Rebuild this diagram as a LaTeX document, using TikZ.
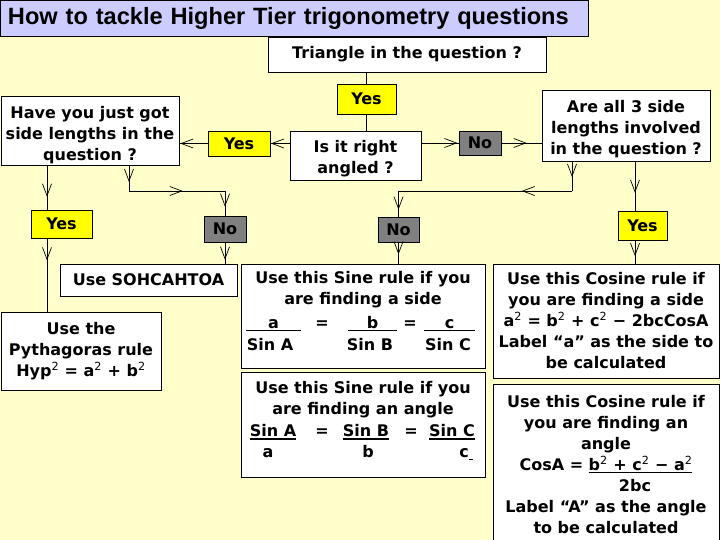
\documentclass[tikz,border=0pt]{standalone}
\usepackage{fontspec}
\setmainfont{DejaVu Sans}
\newfontfamily\titlefont{Liberation Sans}
\usetikzlibrary{arrows.meta,decorations.markings}
\definecolor{bgyellow}{HTML}{FFFFCC}
\definecolor{titleblue}{HTML}{CCCCFF}
\definecolor{yesyellow}{HTML}{FFFF00}
\definecolor{nogrey}{HTML}{808080}
\newcommand\sqtwo{\textsuperscript{\mdseries 2}}
\newcommand\thul[1]{\setbox0=\hbox{#1}\rlap{\rule[-3pt]{\wd0}{1.5pt}}\box0}
\newcommand\pushdown[1]{\rule{0pt}{#1}}
\begin{document}
\begin{tikzpicture}[x=1pt,y=-1pt,
  box/.style={draw=black, fill=white, line width=0.8pt, inner sep=0pt, align=center,
              font=\fontsize{16}{21}\selectfont\bfseries},
  yesbox/.style={box, fill=yesyellow},
  nobox/.style={box, fill=nogrey},
  txt/.style={inner sep=0pt, anchor=base, font=\fontsize{16}{21}\selectfont\bfseries},
  conn/.style={draw=black, line width=0.7pt},
  tipat/.style={postaction={decorate, decoration={markings,
      mark=at position #1 with {\arrow{Straight Barb[length=12pt,width=9pt]}}}}},
]
\useasboundingbox (0,0) rectangle (720,540);
\clip (0,0) rectangle (720,540);
\fill[bgyellow] (0,0) rectangle (720,540);

% title
\node[box, fill=titleblue, minimum width=588pt, minimum height=36pt, text width=572pt, align=left,
      font=\titlefont\bfseries\fontsize{23.6}{28}\selectfont] (title) at (294,18)
      {How to tackle Higher Tier trigonometry questions};

% question / answer boxes
\node[box, minimum width=278pt, minimum height=35pt] (tri) at (407,54.5) {Triangle in the question ?};
\node[yesbox, minimum width=59pt, minimum height=30pt] (yes1) at (366.5,99) {Yes};
\node[box, minimum width=131pt, minimum height=49pt] (isright) at (355.5,155.5) {\pushdown{18pt}Is it right\\angled ?};
\node[nobox, minimum width=42pt, minimum height=24pt] (no1) at (480,143) {No};
\node[box, minimum width=168pt, minimum height=71pt] (areall) at (626,125.5) {\pushdown{20pt}Are all 3 side\\lengths involved\\in the question ?};
\node[nobox, minimum width=41pt, minimum height=25pt] (no2) at (398.5,229.5) {No};
\node[yesbox, minimum width=49pt, minimum height=29pt] (yes3) at (642.5,225.5) {Yes};
\node[box, minimum width=178pt, minimum height=69pt] (haveyou) at (90,130.5) {\pushdown{22pt}Have you just got\\side lengths in the\\question ?};
\node[yesbox, minimum width=62pt, minimum height=25pt] (yes2) at (239,143.5) {Yes};
\node[yesbox, minimum width=61pt, minimum height=28pt] (yes4) at (61.5,224) {Yes};
\node[nobox, minimum width=42pt, minimum height=26pt] (no3) at (225,229) {No};

% result boxes
\node[box, minimum width=177pt, minimum height=32pt] (soh) at (148.5,280) {Use SOHCAHTOA};
\node[box, minimum width=160pt, minimum height=78pt] (pyth) at (81,351)
  {Use the\\Pythagoras rule\\Hyp\sqtwo{} = a\sqtwo{} + b\sqtwo};
\node[box, minimum width=244pt, minimum height=104pt] (sineside) at (363,316) {};
\node[box, minimum width=244pt, minimum height=105pt] (sineangle) at (363,424.5) {};
\node[box, minimum width=226pt, minimum height=114pt] (cosside) at (606,321)
  {Use this Cosine rule if\\you are finding a side\\a\sqtwo{} = b\sqtwo{} + c\sqtwo{} − 2bcCosA\\Label “a” as the side to\\be calculated};
\node[box, minimum width=226pt, minimum height=161pt] (cosangle) at (606,464.5)
  {Use this Cosine rule if\\you are finding an\\angle\\CosA = \thul{b\sqtwo{} + c\sqtwo{} − a\sqtwo}\\\hspace*{58pt}2bc\\Label “A” as the angle\\to be calculated};

% sine rule (side) contents
\node[txt] (ss1) at (363,283) {Use this Sine rule if you};
\node[txt] (ss2) at (363,304) {are finding a side};
\node[txt] (ssa) at (273.5,328) {\thul{\makebox[55pt]{a}}};
\node[txt] (sseq1) at (322,328) {=};
\node[txt] (ssb) at (372.5,328) {\thul{\makebox[49pt]{b}}};
\node[txt] (sseq2) at (410,328) {=};
\node[txt] (ssc) at (449.5,328) {\thul{\makebox[51pt]{c}}};
\node[txt] (ssA) at (270,350) {Sin A};
\node[txt] (ssB) at (370,350) {Sin B};
\node[txt] (ssC) at (448,350) {Sin C};

% sine rule (angle) contents
\node[txt] (sa1) at (363,393) {Use this Sine rule if you};
\node[txt] (sa2) at (363,414) {are finding an angle};
\node[txt] (saA) at (273,436.5) {\thul{Sin A}};
\node[txt] (saeq1) at (322,436.5) {=};
\node[txt] (saB) at (366,436.5) {\thul{Sin B}};
\node[txt] (saeq2) at (411,436.5) {=};
\node[txt] (saC) at (452,436.5) {\thul{Sin C}};
\node[txt] (saa) at (268,457) {a};
\node[txt] (sab) at (368,457) {b};
\node[txt] (sac) at (466,457) {c\thul{\hspace{4pt}}};

% connectors
\coordinate (c5a) at (572,191);
\coordinate (c5b) at (no2.north |- c5a);
\coordinate (c13a) at (129,191);
\coordinate (c13b) at (no3.north |- c13a);

\draw[conn] (tri.south -| yes1.north) -- (yes1.north);
\draw[conn] (yes1.south) -- (yes1.south |- isright.north);
\draw[conn, tipat=0.97] (no1.west -| isright.east) -- (no1.west);
\draw[conn, tipat=0.63] (no1.east) -- (no1.east -| areall.west);
\draw[conn, tipat=0.53] (c5a |- areall.south) -- (c5a);
\draw[conn, tipat=0.29] (c5a) -- (c5b);
\draw[conn, tipat=0.73] (c5b) -- (no2.north);
\draw[conn, tipat=0.57] (no2.south) -- (no2.south |- sineside.north);
\draw[conn, tipat=0.64] ([xshift=-7.5pt]yes3.north |- areall.south) -- ([xshift=-7.5pt]yes3.north);
\draw[conn, tipat=0.68] ([xshift=-7.5pt]yes3.south) -- ([xshift=-7.5pt]yes3.south |- cosside.north);
\draw[conn, tipat=0.97] (yes2.east -| isright.west) -- (yes2.east);
\draw[conn, tipat=0.97] (yes2.west) -- (yes2.west -| haveyou.east);
\draw[conn, tipat=0.71] ([xshift=-14.5pt]yes4.north |- haveyou.south) -- ([xshift=-14.5pt]yes4.north);
\draw[conn, tipat=0.30] ([xshift=-14.5pt]yes4.south) -- ([xshift=-14.5pt]yes4.south |- pyth.north);
\draw[conn, tipat=0.65] (c13a |- haveyou.south) -- (c13a);
\draw[conn, tipat=0.56] (c13a) -- (c13b);
\draw[conn, tipat=0.64] (c13b) -- (no3.north);
\draw[conn, tipat=0.82] (no3.south) -- (no3.south |- soh.north);
\end{tikzpicture}
\end{document}
